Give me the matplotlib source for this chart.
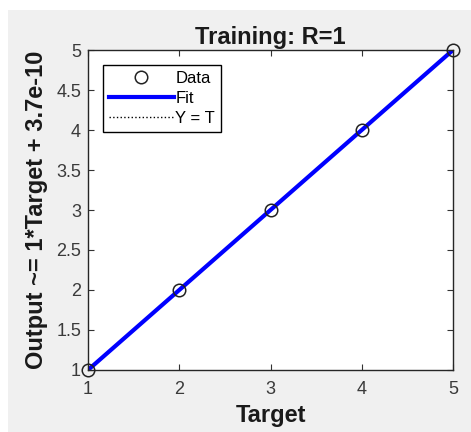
import matplotlib
matplotlib.use('Agg')
from matplotlib import pyplot as plt
from matplotlib.patches import Rectangle
import numpy as np

target = [1, 2, 3, 4, 5]
output = [1, 2, 3, 4, 5]
fit_slope = 1.0
fit_offset = 3.7e-10
x_ticks = [1, 2, 3, 4, 5]
y_ticks = [1, 1.5, 2, 2.5, 3, 3.5, 4, 4.5, 5]

plt.rcParams['font.family'] = ['Liberation Sans', 'DejaVu Sans']

fig = plt.figure(figsize=(4.71, 4.32), dpi=100)
fig.patch.set_facecolor('white')
# grey matlab figure background with thin white border top/left
fig.patches.append(Rectangle((8 / 471, 0), 1, 1 - 10 / 432, transform=fig.transFigure,
                             facecolor='#f0f0f0', edgecolor='none', zorder=-10))

ax = fig.add_axes([88 / 471, 1 - 370 / 432, 365 / 471, 320 / 432])
ax.set_facecolor('white')

t = np.array(target, dtype=float)
ax.plot(t, t, color='black', linestyle=':', linewidth=1, label='Y = T', zorder=1)
ax.plot(t, fit_slope * t + fit_offset, color=(0, 0, 1), linewidth=3, label='Fit', zorder=2)
ax.plot(target, output, linestyle='none', marker='o', markersize=9, markerfacecolor='none',
        markeredgecolor='#222222', markeredgewidth=1.1, label='Data', zorder=3, clip_on=False)

ax.set_xlim(1, 5)
ax.set_ylim(1, 5)
ax.set_xticks(x_ticks)
ax.set_yticks(y_ticks)
ax.set_yticklabels(['%g' % v for v in y_ticks])
ax.tick_params(direction='in', length=4, width=0.8, top=True, right=True, labelsize=13,
               colors='#333333', labelcolor='#3a3a3a')
ax.tick_params(axis='x', pad=8)
ax.tick_params(axis='y', pad=5)
for s in ax.spines.values():
    s.set_color('#262626')
    s.set_linewidth(1)

ax.set_title('Training: R=1', fontsize=17, fontweight='bold', pad=4, color='#1a1a1a')
ax.set_xlabel('Target', fontsize=17, fontweight='bold', labelpad=4, color='#1a1a1a')
ax.set_ylabel('Output ~= 1*Target + 3.7e-10', fontsize=17, fontweight='bold', labelpad=6,
              color='#1a1a1a')

handles, labels = ax.get_legend_handles_labels()
order = [2, 1, 0]
leg = ax.legend([handles[i] for i in order], [labels[i] for i in order],
                loc='upper left', bbox_to_anchor=(0.041, 0.953), fontsize=12,
                handlelength=3.9, handletextpad=0.1, borderpad=0.35, labelspacing=0.3,
                fancybox=False, framealpha=1, edgecolor='black', borderaxespad=0)
leg.get_frame().set_linewidth(1)

fig.savefig('out.png', dpi=100, facecolor=fig.get_facecolor())
